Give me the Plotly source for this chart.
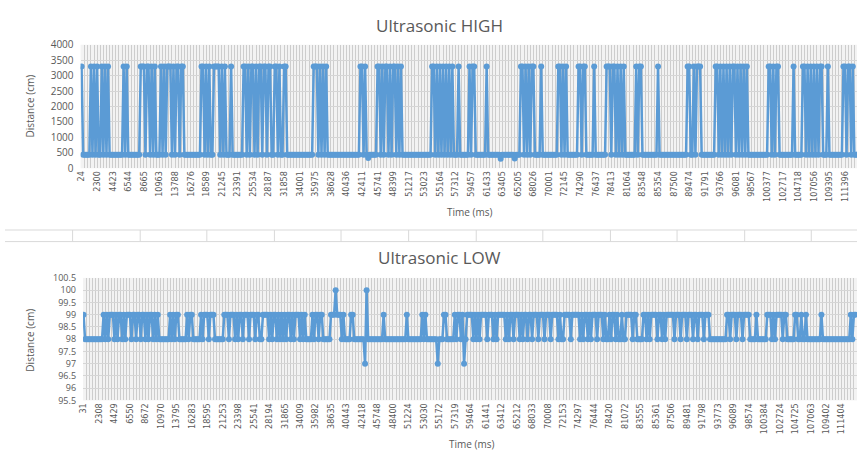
import plotly.graph_objects as go

# ---------------- data ----------------
high_time_labels = ["24", "2300", "4423", "6544", "8665", "10963", "13788", "16276", "18589", "21245",
                    "23391", "25534", "28187", "31858", "34001", "35975", "38628", "40436", "42411", "45741",
                    "48399", "51217", "53023", "55164", "57312", "59457", "61433", "63405", "65205", "68026",
                    "70001", "72145", "74290", "76437", "78413", "81064", "83548", "85354", "87500", "89474",
                    "91791", "93766", "96081", "98567", "100377", "102717", "104718", "107056", "109395", "111396"]

low_time_labels = ["31", "2308", "4429", "6550", "8672", "10970", "13795", "16283", "18595", "21253",
                   "23398", "25541", "28194", "31865", "34009", "35982", "38635", "40443", "42418", "45748",
                   "48400", "51224", "53030", "55172", "57319", "59464", "61441", "63412", "65212", "68033",
                   "70008", "72153", "74297", "76444", "78420", "81072", "83555", "85361", "87506", "89481",
                   "91798", "93773", "96089", "98574", "100384", "102724", "104725", "107063", "109402", "111404"]

N_POINTS = 500          # samples per series
LABEL_STEP = 10         # a time label every 10th sample

# Ultrasonic HIGH: samples reading the high level (~3300 cm), everything else at the base (~440 cm)
HIGH_PEAK = 3300
HIGH_BASE = 440
high_peak_idx = [0, 6, 8, 10, 13, 15, 17, 27, 29, 38, 39, 40, 42, 43, 45, 47, 51, 53,
                 55, 56, 57, 59, 61, 62, 64, 65, 77, 78, 80, 82, 85, 86, 87, 88, 90, 92, 96,
                 104, 105, 107, 109, 110, 112, 114, 115, 117, 118, 120, 121, 124, 125, 127, 130, 131,
                 149, 150, 151, 153, 155, 157, 179, 180, 182, 190, 191, 193, 195, 196, 198, 200, 201, 203, 205,
                 225, 226, 228, 230, 232, 234, 236, 238, 242, 249, 251, 252, 260,
                 282, 283, 285, 287, 289, 290, 295, 306, 307, 309, 311, 319, 320, 322, 323, 329,
                 337, 338, 339, 341, 342, 344, 346, 348, 356, 358, 359, 370,
                 389, 390, 393, 395, 396, 397, 407, 408, 410, 412, 414, 416, 418, 419, 421, 423, 425, 427,
                 441, 442, 444, 446, 447, 457, 463, 464, 466, 468, 470, 472, 474, 475, 479,
                 489, 490, 492, 493, 495]
high_dip_idx = [184, 269, 278]
high_dip_val = [330, 310, 320]

# Ultrasonic LOW: one code per sample, 7 -> 97, 8 -> 98, 9 -> 99, A -> 100 (cm)
low_codes = ("9888888888" "8889898999" "8989989899" "9899899899" "8989989898"
             "8888889898" "9988888989" "9888889899" "9899988888" "8999899989"
             "8998999899" "9899889999" "8989989898" "9899898999" "8989888898"
             "9989988888" "999A999898" "8889988888" "887A888888" "8888988888"
             "8888888889" "8888888889" "8988888887" "8889988888" "9899897899"
             "9989898999" "9899989899" "9998989989" "9989899899" "8999899989"
             "9989999898" "8999989999" "9898998989" "9989998988" "9899898898"
             "8999989988" "8899898999" "9899898999" "9989998999" "8999899899"
             "9899988888" "8888889989" "9989998999" "9888898888" "8899989899"
             "9989988888" "9988988988" "8888888988" "8888888888" "8888889899")
LOW_LEVELS = {"7": 97, "8": 98, "9": 99, "A": 100}

# ---------------- build series ----------------
idx = list(range(N_POINTS))
high_vals = [HIGH_BASE] * N_POINTS
for i in high_peak_idx:
    high_vals[i] = HIGH_PEAK
for i, v in zip(high_dip_idx, high_dip_val):
    high_vals[i] = v
low_vals = [LOW_LEVELS[c] for c in low_codes]

tick_pos = list(range(0, N_POINTS, LABEL_STEP))

W, H = 857, 459
BLUE = "#5b9bd5"
TXT = "#595959"
GRID = "#cdcdcd"
NARROW = "Liberation Sans Narrow, DejaVu Sans Condensed, Arial Narrow, sans-serif"
MAIN = "Open Sans, Liberation Sans, sans-serif"


def px_x(p):
    return p / W


def px_y(p):
    return 1 - p / H


fig = go.Figure()
fig.add_trace(go.Scatter(x=idx, y=high_vals, mode="lines+markers", xaxis="x", yaxis="y",
                         line=dict(color=BLUE, width=2.5), marker=dict(color=BLUE, size=6),
                         showlegend=False))
fig.add_trace(go.Scatter(x=idx, y=low_vals, mode="lines+markers", xaxis="x2", yaxis="y2",
                         line=dict(color=BLUE, width=2.5), marker=dict(color=BLUE, size=6),
                         showlegend=False))

xcommon = dict(tickmode="array", tickvals=tick_pos, tickangle=-90,
               tickfont=dict(family=NARROW, size=9, color=TXT),
               showgrid=True, gridcolor=GRID, gridwidth=1,
               minor=dict(tickmode="linear", tick0=0, dtick=2, showgrid=True, gridcolor=GRID, gridwidth=1),
               zeroline=False, showline=False, ticks="", fixedrange=True)
ycommon = dict(showgrid=True, gridcolor="#d6d6d6",
               zeroline=False, showline=False, ticks="", ticklabelstandoff=6, fixedrange=True)

fig.update_layout(
    width=W, height=H,
    margin=dict(l=0, r=0, t=0, b=0),
    paper_bgcolor="white", plot_bgcolor="#f3f3f3",
    xaxis=dict(domain=[px_x(76), 1], range=[-0.64, 497.7], ticktext=high_time_labels, anchor="y", **xcommon),
    yaxis=dict(domain=[px_y(165.7), px_y(38)], range=[0, 4000], dtick=500, anchor="x",
               tickfont=dict(family=MAIN, size=10, color=TXT), **ycommon),
    xaxis2=dict(domain=[px_x(78.5), 1], range=[-0.3, 500], ticktext=low_time_labels, anchor="y2", **xcommon),
    yaxis2=dict(domain=[px_y(405.7), px_y(279)], range=[95.5, 100.5], dtick=0.5, anchor="x2",
                tickfont=dict(family=MAIN, size=9, color=TXT), **ycommon),
)

ann = [
    ("Ultrasonic HIGH", 437, 18, 17, 0),
    ("Ultrasonic LOW", 437, 258, 17, 0),
    ("Time (ms)", 467, 211, 10, 0),
    ("Time (ms)", 469, 451, 10, 0),
    ("Distance (cm)", 25, 101, 10, -90),
    ("Distance (cm)", 25, 343, 10, -90),
]
for text, x, y, size, ang in ann:
    fig.add_annotation(text=text, x=px_x(x), y=px_y(y), xref="paper", yref="paper",
                       showarrow=False, textangle=ang, xanchor="center", yanchor="middle",
                       font=dict(family=MAIN, size=size, color=TXT))

# spreadsheet cell borders between the two charts
SEP = "#d9d9d9"
for yy in (229.5, 241.5):
    fig.add_shape(type="line", xref="paper", yref="paper", x0=0, x1=1, y0=px_y(yy), y1=px_y(yy),
                  line=dict(color=SEP, width=1))
for xx in (68, 136, 203, 271, 338, 406, 474, 541, 609, 676, 744, 811):
    fig.add_shape(type="line", xref="paper", yref="paper", x0=px_x(xx), x1=px_x(xx),
                  y0=px_y(229.5), y1=px_y(241.5), line=dict(color=SEP, width=1))

fig.write_html("out.html")
